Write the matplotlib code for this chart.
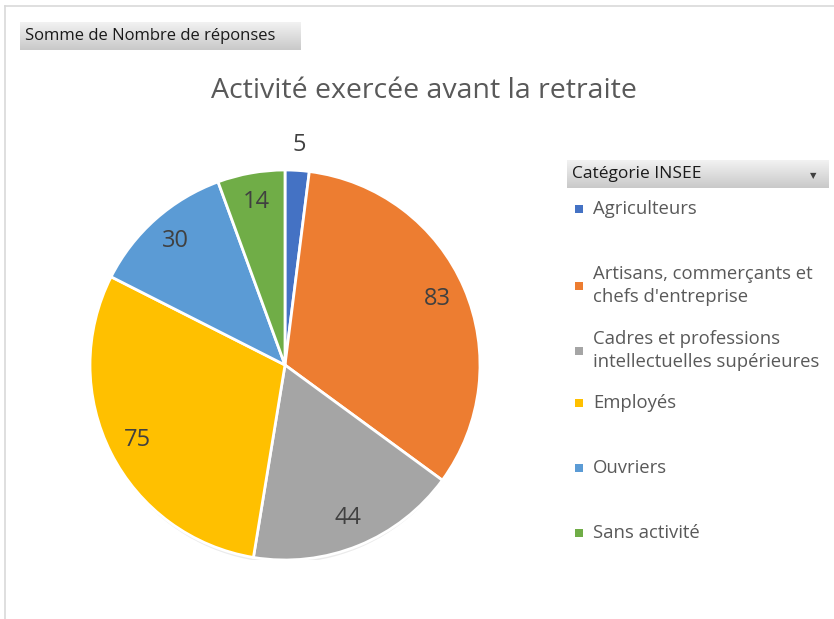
import matplotlib
matplotlib.use("Agg")
import matplotlib.pyplot as plt
import numpy as np
from matplotlib.patches import Ellipse
from matplotlib.colors import LinearSegmentedColormap

categories = ["Agriculteurs", "Artisans, commerçants et\nchefs d'entreprise",
              "Cadres et professions\nintellectuelles supérieures", "Employés",
              "Ouvriers", "Sans activité"]
values = [5, 83, 44, 75, 30, 14]
colors = ["#4472C4", "#ED7D31", "#A5A5A5", "#FFC000", "#5B9BD5", "#70AD47"]
title = "Activité exercée avant la retraite"
field_button = "Somme de Nombre de réponses"
legend_title = "Catégorie INSEE"

plt.rcParams['font.family'] = ['Open Sans', 'DejaVu Sans']
W, H = 834, 619
fig = plt.figure(figsize=(W / 100, H / 100), dpi=100)

def px_axes(x0, y0, w, h):
    return fig.add_axes([x0 / W, 1 - (y0 + h) / H, w / W, h / H])

# frame border lines
fig.add_artist(plt.Line2D([4.5 / W, 4.5 / W], [0, 1 - 6 / H], color="#d9d9d9", lw=1.2))
fig.add_artist(plt.Line2D([4.5 / W, 1], [1 - 6 / H, 1 - 6 / H], color="#d9d9d9", lw=1.2))

# gradient buttons
grad = np.linspace(0, 1, 50).reshape(-1, 1)
cmap = LinearSegmentedColormap.from_list("btn", ["#f2f2f2", "#c9c9c9"])

def button(x0, y0, w, h, text, fs, arrow=False):
    a = px_axes(x0, y0, w, h)
    a.imshow(grad, aspect="auto", cmap=cmap, extent=[0, 1, 0, 1], origin="upper")
    a.set_xlim(0, 1); a.set_ylim(0, 1)
    a.axis("off")
    a.text(5 / w, 0.5, text, fontsize=fs, color="#1a1a1a", va="center", ha="left")
    if arrow:
        a.text(1 - 16 / w, 0.45, "▼", fontsize=6, color="#404040", va="center", ha="center",
               family="DejaVu Sans")

button(20, 22, 281, 28, field_button, 12)
button(567, 160, 262, 28, legend_title, 12.5, arrow=True)

# title
fig.text(424 / W, 1 - 91 / H, title, fontsize=20.5, color="#595959", ha="center", va="center")

# pie
cx, cy, r = 285, 365, 195
ax = px_axes(cx - r, cy - r, 2 * r, 2 * r)
ax.add_patch(Ellipse((0.0, -0.015), 1.98, 2.0, facecolor="#000000", alpha=0.08, zorder=0))
wedges, _ = ax.pie(values, colors=colors, startangle=90, counterclock=False,
                   wedgeprops=dict(edgecolor="white", linewidth=2), radius=1)
total = sum(values)
for w, v in zip(wedges, values):
    ang = np.deg2rad((w.theta1 + w.theta2) / 2)
    d = 1.13 if v / total < 0.03 else 0.85
    ax.text(d * np.cos(ang), d * np.sin(ang), str(v), ha="center", va="center",
            fontsize=17, color="#404040")
ax.set_xlim(-1, 1); ax.set_ylim(-1, 1)
ax.set_aspect("equal")
ax.axis("off")

# legend
leg_y = [209, 285.5, 350.5, 403, 468, 533]
for cat, col, y in zip(categories, colors, leg_y):
    fig.patches.append(plt.Rectangle((575 / W, 1 - (y + 4) / H), 8 / W, 8 / H,
                                     transform=fig.transFigure, facecolor=col, edgecolor="none"))
    fig.text(593 / W, 1 - y / H, cat, fontsize=13.3, color="#595959", ha="left", va="center",
             linespacing=1.3)

fig.savefig("out.png", dpi=100, facecolor="white")
